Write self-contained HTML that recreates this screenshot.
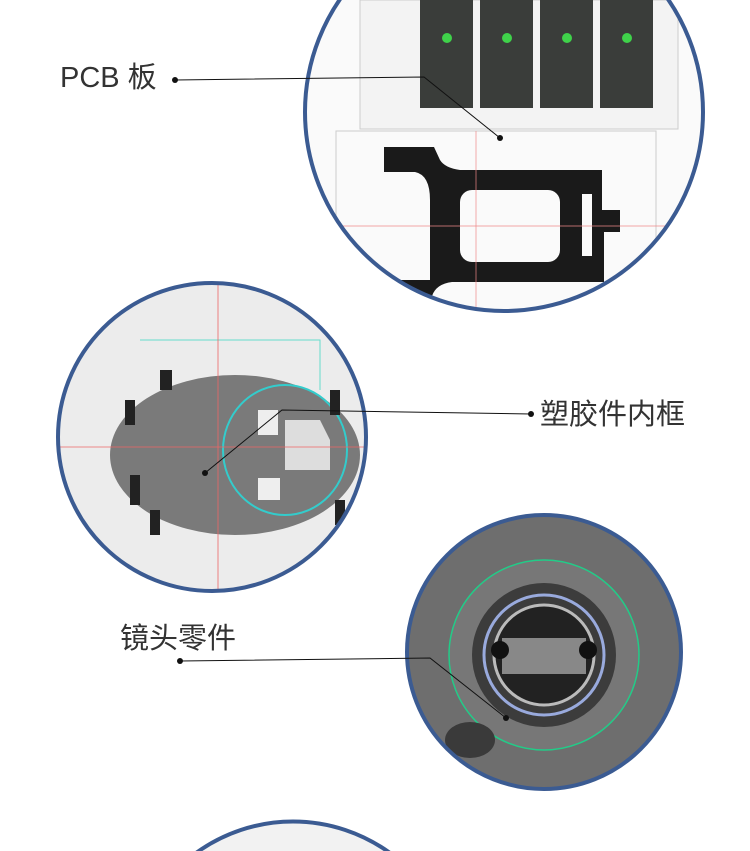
<!DOCTYPE html>
<html><head><meta charset="utf-8"><style>
html,body{margin:0;padding:0;background:#fff;width:750px;height:851px;overflow:hidden;}
svg{display:block}
text{font-family:"Liberation Sans","Noto Sans CJK SC",sans-serif;fill:#333;}
</style></head><body>
<svg width="750" height="851" viewBox="0 0 750 851" xmlns="http://www.w3.org/2000/svg">
<defs>
<clipPath id="all"><rect x="0" y="0" width="750" height="851"/></clipPath>
<clipPath id="c1"><circle cx="504" cy="112" r="199"/></clipPath>
<clipPath id="c2"><circle cx="212" cy="437" r="154"/></clipPath>
<clipPath id="c3"><circle cx="544" cy="652" r="137"/></clipPath>
</defs>
<g clip-path="url(#all)">
<g clip-path="url(#c1)">
<rect x="305" y="0" width="400" height="315" fill="#fafafa"/>
<rect x="360" y="0" width="318" height="129" fill="#f3f3f3" stroke="#ccc"/>
<g fill="#3a3d3a">
<rect x="420" y="0" width="53" height="108"/><rect x="480" y="0" width="53" height="108"/>
<rect x="540" y="0" width="53" height="108"/><rect x="600" y="0" width="53" height="108"/>
</g>
<g fill="#3fd24a"><circle cx="447" cy="38" r="5"/><circle cx="507" cy="38" r="5"/><circle cx="567" cy="38" r="5"/><circle cx="627" cy="38" r="5"/></g>
<rect x="336" y="131" width="320" height="182" fill="#fafafa" stroke="#ccc"/>
<path d="M384 147 H434 L440 160 Q445 168 460 170 H602 V210 H620 V232 H604 V282 H452 Q436 284 432 296 L425 313 H380 V280 H430 V200 Q430 175 415 172 H384 Z" fill="#1a1a1a"/>
<rect x="460" y="190" width="100" height="72" rx="12" fill="#fafafa"/>
<rect x="582" y="194" width="10" height="62" fill="#fafafa"/>
<line x1="305" y1="226" x2="700" y2="226" stroke="#e88" stroke-width="0.7"/>
<line x1="476" y1="131" x2="476" y2="313" stroke="#e88" stroke-width="0.7"/>
</g>
<circle cx="504" cy="112" r="199" fill="none" stroke="#3b5b92" stroke-width="4"/>
<g clip-path="url(#c2)">
<rect x="58" y="283" width="308" height="308" fill="#ececec"/>
<path d="M140 340 H320 V390" fill="none" stroke="#6dc" stroke-width="1"/>
<ellipse cx="235" cy="455" rx="125" ry="80" fill="#7a7a7a"/>
<ellipse cx="285" cy="450" rx="62" ry="65" fill="none" stroke="#3cc" stroke-width="2"/>
<rect x="258" y="410" width="20" height="25" fill="#eee"/>
<rect x="258" y="478" width="22" height="22" fill="#eee"/>
<path d="M285 420 H320 L330 440 V470 H285 Z" fill="#ddd"/>
<g fill="#222">
<rect x="125" y="400" width="10" height="25"/><rect x="130" y="475" width="10" height="30"/>
<rect x="150" y="510" width="10" height="25"/><rect x="160" y="370" width="12" height="20"/>
<rect x="330" y="390" width="10" height="25"/><rect x="335" y="500" width="10" height="25"/>
</g>
<line x1="58" y1="447" x2="366" y2="447" stroke="#e66" stroke-width="0.8"/>
<line x1="218" y1="283" x2="218" y2="591" stroke="#e66" stroke-width="0.8"/>
</g>
<circle cx="212" cy="437" r="154" fill="none" stroke="#3b5b92" stroke-width="4"/>
<g clip-path="url(#c3)">
<rect x="407" y="515" width="274" height="274" fill="#6e6e6e"/>
<circle cx="544" cy="655" r="95" fill="#777" stroke="#2c8" stroke-width="1.5"/>
<circle cx="544" cy="655" r="72" fill="#3c3c3c"/>
<circle cx="544" cy="655" r="60" fill="none" stroke="#9ad" stroke-width="3"/>
<circle cx="544" cy="655" r="50" fill="#222" stroke="#bbb" stroke-width="3"/>
<rect x="502" y="638" width="84" height="36" fill="#888"/>
<circle cx="500" cy="650" r="9" fill="#111"/><circle cx="588" cy="650" r="9" fill="#111"/>
<ellipse cx="470" cy="740" rx="25" ry="18" fill="#3a3a3a"/>
</g>
<circle cx="544" cy="652" r="137" fill="none" stroke="#3b5b92" stroke-width="4"/>
<path d="M196 853 A165 165 0 0 1 390 853 Z" fill="#f2f2f2" stroke="#3b5b92" stroke-width="4"/>
<text x="60" y="87" font-size="29">PCB 板</text>
<circle cx="175" cy="80" r="3" fill="#111"/>
<polyline points="175,80 424,77 500,138" fill="none" stroke="#111" stroke-width="1"/>
<circle cx="500" cy="138" r="3" fill="#111"/>
<text x="540" y="424" font-size="29">塑胶件内框</text>
<circle cx="531" cy="414" r="3" fill="#111"/>
<polyline points="531,414 282,410 205,473" fill="none" stroke="#111" stroke-width="1"/>
<circle cx="205" cy="473" r="3" fill="#111"/>
<text x="120" y="648" font-size="29">镜头零件</text>
<circle cx="180" cy="661" r="3" fill="#111"/>
<polyline points="180,661 430,658 506,718" fill="none" stroke="#111" stroke-width="1"/>
<circle cx="506" cy="718" r="3" fill="#111"/>
</g>
</svg>
</body></html>
